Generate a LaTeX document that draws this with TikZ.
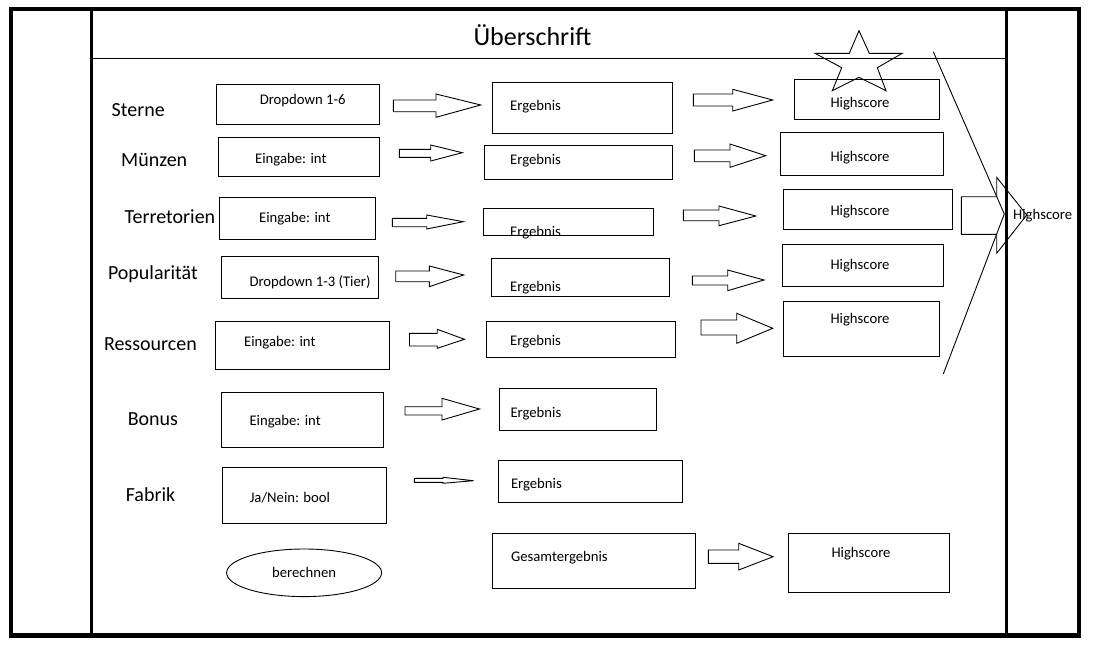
\documentclass[tikz,border=0pt]{standalone}
\usepackage{fontspec}
\setmainfont{Carlito}
\usetikzlibrary{shapes.geometric}
\tikzset{
  frameline/.style={line width=4.5pt},
  divider/.style={line width=3pt},
  thinline/.style={line width=0.9pt},
  box/.style={draw, line width=0.9pt, inner sep=0pt, anchor=north west},
  lbl/.style={font=\fontsize{20}{24}\selectfont, anchor=base west, inner sep=0pt},
  txt/.style={font=\fontsize{14.7}{17}\selectfont, anchor=base west, inner sep=0pt},
  hstxt/.style={font=\fontsize{14.7}{17}\selectfont, anchor=base, inner sep=0pt},
  titletxt/.style={font=\fontsize{26}{30}\selectfont, anchor=base west, inner sep=0pt},
  ovalbox/.style={draw, ellipse, line width=0.9pt, inner sep=0pt, font=\fontsize{14.7}{17}\selectfont},
}
% box: name, x1, y1, x2, y2
\newcommand\mkbox[5]{\node[box, minimum width={(#4-#2)*1pt}, minimum height={(#5-#3)*1pt}] (#1) at (#2,#3) {};}
% block arrow: x0, body top, body bottom, head base x, head top, head bottom, tip x, tip y
\newcommand\blockarr[8]{\draw[thinline, line join=miter] (#1,#2) -- (#4,#2) -- (#4,#5) -- (#7,#8) -- (#4,#6) -- (#4,#3) -- (#1,#3) -- cycle;}
\begin{document}
\begin{tikzpicture}[x=1pt,y=-1pt]
\useasboundingbox (0,0) rectangle (1093,645);
\fill[white] (0,0) rectangle (1093,645);

% frame
\draw[frameline] (11,9) rectangle (1079,635.3);
\draw[divider] (91.5,9) -- (91.5,635.3);
\draw[divider] (1006,9) -- (1006,635.3);
\draw[thinline] (91.5,58.3) -- (1006,58.3);
\node[titletxt] (title) at (473.3,45.7) {Überschrift};

% row labels
\node[lbl] (lSterne) at (111.5,116) {Sterne};
\node[lbl] (lMuenzen) at (121,166) {Münzen};
\node[lbl] (lTerr) at (124.5,223) {Terretorien};
\node[lbl] (lPop) at (107.8,279) {Popularität};
\node[lbl] (lRes) at (103.8,350.7) {Ressourcen};
\node[lbl] (lBonus) at (127.6,425.4) {Bonus};
\node[lbl] (lFabrik) at (125.6,501.4) {Fabrik};

% input boxes
\mkbox{I1}{216.4}{84.3}{379.2}{124.3}
\mkbox{I2}{217.5}{137.3}{378.5}{176}
\mkbox{I3}{219}{197.3}{374.6}{239.3}
\mkbox{I4}{220.5}{255.7}{377.9}{298.3}
\mkbox{I5}{214.6}{321}{389.3}{369}
\mkbox{I6}{220.5}{391.7}{383.4}{446.7}
\mkbox{I7}{222}{467.3}{385.6}{523.3}
\node[txt] (tI1) at (259.6,104.8) {Dropdown 1-6};
\node[txt] (tI2) at (255,163) {Eingabe: int};
\node[txt] (tI3) at (259,222) {Eingabe: int};
\node[txt] (tI4) at (249.3,286.5) {Dropdown 1-3 (Tier)};
\node[txt] (tI5) at (244,346) {Eingabe: int};
\node[txt] (tI6) at (249.3,425) {Eingabe: int};
\node[txt] (tI7) at (249.6,502.5) {Ja/Nein: bool};

% result boxes
\mkbox{E1}{492.3}{82.3}{671.7}{133.3}
\mkbox{E2}{484.3}{145}{671.7}{179.3}
\mkbox{E3}{483.3}{208.3}{652.7}{235.3}
\mkbox{E4}{490.6}{258.3}{668.5}{296}
\mkbox{E5}{486.2}{321}{675.2}{356.7}
\mkbox{E6}{499.2}{388.3}{656.2}{430}
\mkbox{E7}{497.6}{460}{682.4}{502.3}
\mkbox{G}{491.8}{533.3}{694.5}{588.3}
\node[txt] (tE1) at (510,110) {Ergebnis};
\node[txt] (tE2) at (510,164) {Ergebnis};
\node[txt] (tE3) at (510,236.5) {Ergebnis};
\node[txt] (tE4) at (510,291) {Ergebnis};
\node[txt] (tE5) at (510,345) {Ergebnis};
\node[txt] (tE6) at (510.3,417) {Ergebnis};
\node[txt] (tE7) at (510.8,488) {Ergebnis};
\node[txt] (tG) at (510.8,561) {Gesamtergebnis};

% highscore boxes
\mkbox{H1}{794.3}{79.3}{939.3}{119.3}
\mkbox{H2}{780.3}{132.3}{943.3}{175.3}
\mkbox{H3}{783.3}{189.3}{951.7}{229.3}
\mkbox{H4}{781.7}{244.3}{943.3}{285.7}
\mkbox{H5}{783.3}{301}{939.3}{356}
\mkbox{H8}{787.5}{533.3}{949.4}{591.7}
\node[hstxt] (tH1) at (860,107) {Highscore};
\node[hstxt] (tH2) at (860,161) {Highscore};
\node[hstxt] (tH3) at (860,215) {Highscore};
\node[hstxt] (tH4) at (860,269.5) {Highscore};
\node[hstxt] (tH5) at (860,323.5) {Highscore};
\node[hstxt] (tH8) at (861,557.5) {Highscore};

% calculate button
\node[ovalbox, minimum width=155pt, minimum height=47.6pt] (calc) at (304.1,572.8) {berechnen};

% block arrows, input -> result
\blockarr{393.3}{100}{111.7}{436}{94}{117.3}{480.7}{105}
\blockarr{399.3}{149.3}{157.3}{430.7}{145}{161}{462.3}{152.7}
\blockarr{392.3}{218.3}{226.7}{426.7}{215}{229}{463.3}{221.7}
\blockarr{395.7}{271}{281.7}{429.3}{266}{286.7}{463.7}{275}
\blockarr{409.5}{333.3}{346}{437.2}{329.3}{348.3}{464.5}{339.3}
\blockarr{405}{406.7}{415}{442}{398.3}{420}{479.5}{409}
\blockarr{414.3}{478.3}{482.3}{443}{477.3}{483.3}{473.5}{480.7}
% block arrows, result -> highscore
\blockarr{693.3}{94}{106}{732.7}{89.3}{111}{772.7}{100}
\blockarr{694.3}{150}{161.7}{730}{144}{167.3}{765.7}{155.7}
\blockarr{683.3}{210}{220.7}{719}{206}{225.7}{755.7}{216}
\blockarr{692.3}{276}{285}{727.7}{270}{290.7}{764}{280}
\blockarr{701}{320}{335}{736.7}{313.3}{343.3}{772.7}{328.3}
\blockarr{708.3}{550}{563.3}{738.7}{543.3}{570}{773.1}{556.7}
% big arrow to overall highscore
\blockarr{961.3}{196.7}{234.3}{996.7}{177.3}{253.3}{1026.7}{215}
\node[txt] (tBig) at (1013,219) {Highscore};

% collecting lines
\coordinate (dTop) at (933.3,51.7);
\coordinate (dMid) at (1004.3,214);
\coordinate (dBot) at (943.3,374);
\draw[thinline] (dTop) -- (dMid) -- (dBot);

% star
\draw[thinline, line join=miter] (859,30.7) -- (869.3,53.3) -- (902.3,53.3) -- (877.3,67.7) -- (886,90.7)
  -- (859,77.3) -- (832.3,90.7) -- (841.7,67.7) -- (815,53.3) -- (849.3,53.3) -- cycle;
\end{tikzpicture}
\end{document}
